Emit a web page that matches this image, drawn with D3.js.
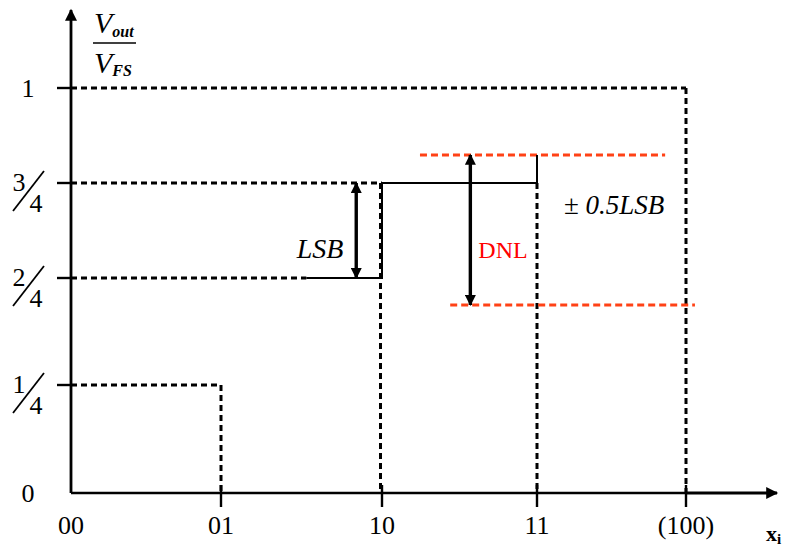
<!DOCTYPE html>
<html><head><meta charset="utf-8">
<script src="https://cdn.jsdelivr.net/npm/d3@7"></script>
<style>body{margin:0;background:#fff}svg{display:block}text{font-family:"Liberation Serif","Times New Roman",serif}</style>
</head><body><svg id="c" width="790" height="547"></svg>
<script>
// ---- data ----
const codeLabels = ["00", "01", "10", "11", "(100)"];
const codes = [0, 1, 2, 3, 4];
const levels = [0, 0.25, 0.5, 0.75, 1];
const levelNum = ["0", "1", "2", "3", "1"];
const levelDen = [null, "4", "4", "4", null];
// dashed projection lines of the ideal characteristic
const guideH = [ {level: 0.25, to: 1}, {level: 0.5, to: 1.53}, {level: 0.75, to: 2}, {level: 1, to: 4} ];
const guideV = [ {code: 1, from: 0.25}, {code: 2, from: 0.75}, {code: 3, from: 0.75}, {code: 4, from: 1} ];
// actual (solid) step
const stepCode = [1.53, 2, 2, 3, 3];
const stepLevel = [0.5, 0.5, 0.75, 0.75, 0.824];
// ±0.5 LSB red bounds
const bounds = [ {level: 0.824, from: 2.245, to: 3.86}, {level: 0.437, from: 2.44, to: 4.06} ];
// double arrows
const arrows = [ {code: 1.84, lo: 0.5, hi: 0.75}, {code: 2.57, lo: 0.437, hi: 0.824} ];

// ---- scales ----
const x = d3.scaleLinear().domain(codes).range([71, 221, 382, 537, 686]);
const y = d3.scaleLinear().domain([0, 0.25, 0.5, 1]).range([493, 385, 278, 88]);

const svg = d3.select("#c");
const defs = svg.append("defs");
function marker(id, w, l) {
  defs.append("marker").attr("id", id).attr("viewBox", "0 0 10 10").attr("refX", 9).attr("refY", 5)
    .attr("markerUnits", "userSpaceOnUse").attr("markerWidth", l).attr("markerHeight", w).attr("orient", "auto-start-reverse")
    .append("path").attr("d", "M0,0 L10,5 L0,10 Z").attr("fill", "#000");
}
marker("ah", 12, 15);
marker("ahs", 11, 13);

const black = "#000", red = "#ff4216";

// dashed guides
svg.append("g").selectAll("line").data(guideH).join("line")
  .attr("x1", x(0)).attr("x2", d => x(d.to)).attr("y1", d => y(d.level)).attr("y2", d => y(d.level))
  .attr("stroke", black).attr("stroke-width", 3).attr("stroke-dasharray", "6,4");
svg.append("g").selectAll("line").data(guideV).join("line")
  .attr("x1", d => x(d.code) - (d.code === 2 ? 1.5 : 0)).attr("x2", d => x(d.code) - (d.code === 2 ? 1.5 : 0))
  .attr("y1", d => y(d.from)).attr("y2", y(0))
  .attr("stroke", black).attr("stroke-width", 3).attr("stroke-dasharray", "6,4");

// red bounds
svg.append("g").selectAll("line").data(bounds).join("line")
  .attr("x1", d => x(d.from)).attr("x2", d => x(d.to)).attr("y1", d => y(d.level)).attr("y2", d => y(d.level))
  .attr("stroke", red).attr("stroke-width", 3).attr("stroke-dasharray", "7,4");

// solid step
const line = d3.line().x(d => x(d[0])).y(d => y(d[1]));
svg.append("path").datum(d3.zip(stepCode, stepLevel)).attr("d", line)
  .attr("fill", "none").attr("stroke", black).attr("stroke-width", 2);

// axes
svg.append("line").attr("x1", x(0)).attr("x2", x(0)).attr("y1", y(0)).attr("y2", 10)
  .attr("stroke", black).attr("stroke-width", 2.8).attr("marker-end", "url(#ah)");
svg.append("line").attr("x1", x(0)).attr("x2", x(4)).attr("y1", y(0)).attr("y2", y(0))
  .attr("stroke", black).attr("stroke-width", 2.4);
svg.append("line").attr("x1", x(4)).attr("x2", 777).attr("y1", y(0)).attr("y2", y(0))
  .attr("stroke", black).attr("stroke-width", 3.2).attr("marker-end", "url(#ah)");

// y ticks
svg.append("g").selectAll("line").data(levels.filter(d => d > 0)).join("line")
  .attr("x1", x(0) - 14).attr("x2", x(0)).attr("y1", d => y(d)).attr("y2", d => y(d))
  .attr("stroke", black).attr("stroke-width", 2.4);
// x ticks
svg.append("g").selectAll("line").data(codes.filter(d => d > 0)).join("line")
  .attr("x1", d => x(d)).attr("x2", d => x(d)).attr("y1", y(0) - 8).attr("y2", y(0) + 14)
  .attr("stroke", black).attr("stroke-width", 2.4);

// x labels
svg.append("g").selectAll("text").data(codes).join("text")
  .attr("x", d => x(d)).attr("y", 534).attr("text-anchor", "middle").attr("font-size", 26)
  .text((d, i) => codeLabels[i]);
svg.append("text").attr("x", 766).attr("y", 541).attr("font-size", 22).attr("font-weight", "bold")
  .text("x").append("tspan").attr("font-size", 15).attr("dy", 3).text("i");

// y labels
levels.forEach((lv, i) => {
  const yy = y(lv);
  if (levelDen[i] === null) {
    svg.append("text").attr("x", 28).attr("y", yy + 9).attr("text-anchor", "middle")
      .attr("font-size", 26).text(levelNum[i]);
  } else {
    svg.append("text").attr("x", 19).attr("y", yy + 8).attr("text-anchor", "middle").attr("font-size", 26).text(levelNum[i]);
    svg.append("line").attr("x1", 13).attr("x2", 44).attr("y1", yy + 28).attr("y2", yy - 12)
      .attr("stroke", black).attr("stroke-width", 1.8);
    svg.append("text").attr("x", 36).attr("y", yy + 29).attr("text-anchor", "middle").attr("font-size", 26).text(levelDen[i]);
  }
});

// y axis title Vout / VFS
const yt = svg.append("g");
yt.append("text").attr("x", 94).attr("y", 33).attr("font-size", 30).attr("font-style", "italic").text("V")
  .append("tspan").attr("font-size", 16).attr("font-weight", "bold").attr("dy", 4).text("out");
yt.append("line").attr("x1", 93).attr("x2", 136).attr("y1", 43).attr("y2", 43).attr("stroke", black).attr("stroke-width", 1.5);
yt.append("text").attr("x", 94).attr("y", 73).attr("font-size", 30).attr("font-style", "italic").text("V")
  .append("tspan").attr("font-size", 16).attr("font-weight", "bold").attr("dy", 3).text("FS");

// double arrows
svg.append("g").selectAll("line").data(arrows).join("line")
  .attr("x1", d => x(d.code)).attr("x2", d => x(d.code)).attr("y1", d => y(d.lo)).attr("y2", d => y(d.hi))
  .attr("stroke", black).attr("stroke-width", 3.4).attr("marker-start", "url(#ahs)").attr("marker-end", "url(#ahs)");

// annotations
svg.append("text").attr("x", 320).attr("y", 258).attr("text-anchor", "middle").attr("font-size", 28)
  .attr("font-style", "italic").text("LSB");
svg.append("text").attr("x", 503).attr("y", 258).attr("text-anchor", "middle").attr("font-size", 24)
  .attr("fill", "#f00").text("DNL");
const pm = svg.append("text").attr("x", 564).attr("y", 214).attr("font-size", 27);
pm.append("tspan").text("± ");
pm.append("tspan").attr("font-style", "italic").text("0.5LSB");
</script></body></html>
